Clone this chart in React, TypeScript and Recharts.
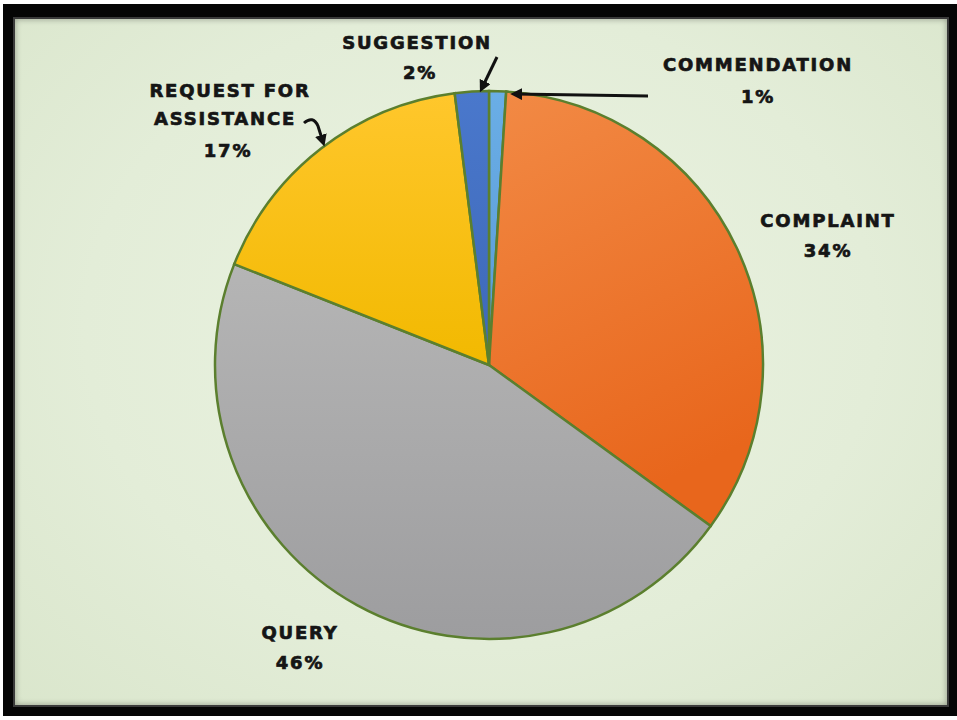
import React from 'react';
import { PieChart, Pie, Cell } from 'recharts';

// slices, clockwise from 12 o'clock
const CATEGORIES = ['COMMENDATION', 'COMPLAINT', 'QUERY', 'REQUEST FOR ASSISTANCE', 'SUGGESTION'];
const PERCENTS = [1, 34, 46, 17, 2];
const FILLS = ['url(#gLight)', 'url(#gOrange)', 'url(#gGray)', 'url(#gYellow)', 'url(#gBlue)'];

const data = CATEGORIES.map((name, i) => ({ name, value: PERCENTS[i] }));

const CX = 489;
const CY = 365;

// label placement relative to the pie centre: text lines and an optional arrow path
const LABELS: { lines: [number, number, string][]; arrow?: string }[] = [
  { lines: [[269, -301, 'COMMENDATION'], [269, -269, '1%']], arrow: 'M 159 -269 L 26 -271' },
  { lines: [[339, -145, 'COMPLAINT'], [339, -115, '34%']] },
  { lines: [[-189, 267, 'QUERY'], [-189, 297, '46%']] },
  {
    lines: [[-259, -275, 'REQUEST FOR'], [-264, -247, 'ASSISTANCE'], [-261, -215, '17%']],
    arrow: 'M -185 -242 Q -176 -250 -171 -239 L -166 -223',
  },
  { lines: [[-72, -323, 'SUGGESTION'], [-69, -293, '2%']], arrow: 'M 8 -308 L -7 -277' },
];

const renderLabel = (props: any) => {
  const { cx, cy, index } = props;
  const lay = LABELS[index];
  return (
    <g key={`lab-${index}`}>
      {lay.lines.map(([dx, dy, t], k) => (
        <text
          key={k}
          x={cx + dx}
          y={cy + dy}
          textAnchor="middle"
          dominantBaseline="central"
          fontFamily="DejaVu Sans, sans-serif"
          fontWeight="bold"
          fontSize={18}
          letterSpacing={1.8}
          fill="#151515"
          stroke="#151515"
          strokeWidth={0.7}
        >
          {t}
        </text>
      ))}
      {lay.arrow && (
        <path
          d={lay.arrow.replace(/(-?\d+(\.\d+)?) (-?\d+(\.\d+)?)/g, (_m, a, _b, c) => `${cx + Number(a)} ${cy + Number(c)}`)}
          fill="none"
          stroke="#111"
          strokeWidth={3}
          markerEnd="url(#arrowHead)"
        />
      )}
    </g>
  );
};

export default function App() {
  return (
    <div style={{ position: 'absolute', left: 0, top: 0, width: 957, height: 720, background: '#fff' }}>
      <div style={{ position: 'absolute', left: 3, top: 4, width: 954, height: 712, background: '#050505' }} />
      <div
        style={{
          position: 'absolute',
          left: 13,
          top: 17,
          width: 932,
          height: 686,
          border: '2px solid #3a3a3a',
          background: 'radial-gradient(ellipse at 50% 45%, #ebf3e2 0%, #e3edd8 60%, #dae6cc 100%)',
          boxShadow: 'inset 0 0 6px rgba(0,0,0,0.35)',
        }}
      />
      <div style={{ position: 'absolute', left: 0, top: 0 }}>
        <PieChart width={957} height={720} margin={{ top: 0, right: 0, bottom: 0, left: 0 }}>
          <defs>
            <linearGradient id="gOrange" x1="0" y1="0" x2="0.3" y2="1">
              <stop offset="0%" stopColor="#f28a45" />
              <stop offset="100%" stopColor="#e8661c" />
            </linearGradient>
            <linearGradient id="gGray" x1="0" y1="0" x2="0" y2="1">
              <stop offset="0%" stopColor="#b5b5b5" />
              <stop offset="100%" stopColor="#9d9d9f" />
            </linearGradient>
            <linearGradient id="gYellow" x1="0" y1="0" x2="0" y2="1">
              <stop offset="0%" stopColor="#ffc72c" />
              <stop offset="100%" stopColor="#f2b900" />
            </linearGradient>
            <linearGradient id="gBlue" x1="0" y1="0" x2="0" y2="1">
              <stop offset="0%" stopColor="#4a78cc" />
              <stop offset="100%" stopColor="#3d68b8" />
            </linearGradient>
            <linearGradient id="gLight" x1="0" y1="0" x2="0" y2="1">
              <stop offset="0%" stopColor="#6aaee6" />
              <stop offset="100%" stopColor="#5a9ad6" />
            </linearGradient>
            <marker id="arrowHead" viewBox="0 0 10 10" refX="6" refY="5" markerWidth="4" markerHeight="4" orient="auto-start-reverse">
              <path d="M 0 0 L 10 5 L 0 10 z" fill="#111" />
            </marker>
          </defs>
          <Pie
            data={data}
            dataKey="value"
            nameKey="name"
            cx={CX}
            cy={CY}
            outerRadius={274}
            startAngle={90}
            endAngle={-270}
            label={renderLabel}
            labelLine={false}
            isAnimationActive={false}
          >
            {data.map((d, i) => (
              <Cell key={d.name} fill={FILLS[i]} stroke="#5b7f2e" strokeWidth={2.5} />
            ))}
          </Pie>
        </PieChart>
      </div>
    </div>
  );
}
